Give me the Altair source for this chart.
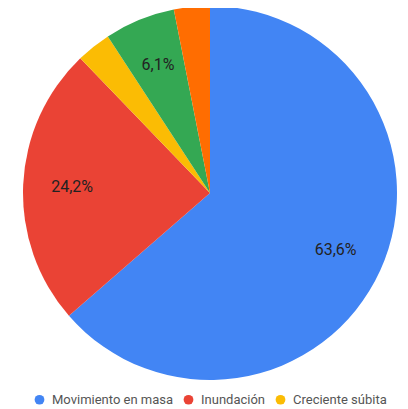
import altair as alt
import pandas as pd

categories = ["Movimiento en masa", "Inundación", "Creciente súbita", "Avenida torrencial", "Otros"]
values = [63.6, 24.2, 3.0, 6.1, 3.1]
labels = ["63,6%", "24,2%", "", "6,1%", ""]
colors = ["#4285F4", "#EA4335", "#FBBC04", "#34A853", "#FF6D01"]
legend_items = categories[:3]

df = pd.DataFrame({"cat": categories, "val": values, "label": labels, "ord": list(range(len(categories)))})

cx, cy = 202, 185

base = alt.Chart(df).encode(
    theta=alt.Theta("val:Q", stack=True),
    order=alt.Order("ord:Q"),
)

pie = base.mark_arc(outerRadius=187).encode(
    x=alt.value(cx), y=alt.value(cy),
    color=alt.Color(
        "cat:N",
        scale=alt.Scale(domain=categories, range=colors),
        legend=alt.Legend(
            title=None, orient="none", legendX=25, legendY=385, direction="horizontal",
            values=legend_items, symbolType="circle", symbolSize=95,
            labelFont="Roboto", labelFontSize=13, labelColor="#555",
            labelOffset=6, columnPadding=8, padding=0,
        ),
    ),
)

text = base.mark_text(radius=138, fontSize=16, font="Roboto", color="#222").encode(
    x=alt.value(cx), y=alt.value(cy), text="label:N"
)

chart = (pie + text).properties(width=392, height=400, autosize="none", padding=0).configure_view(stroke=None)

chart.save("out.html", embed_options={"renderer": "svg", "actions": False})
